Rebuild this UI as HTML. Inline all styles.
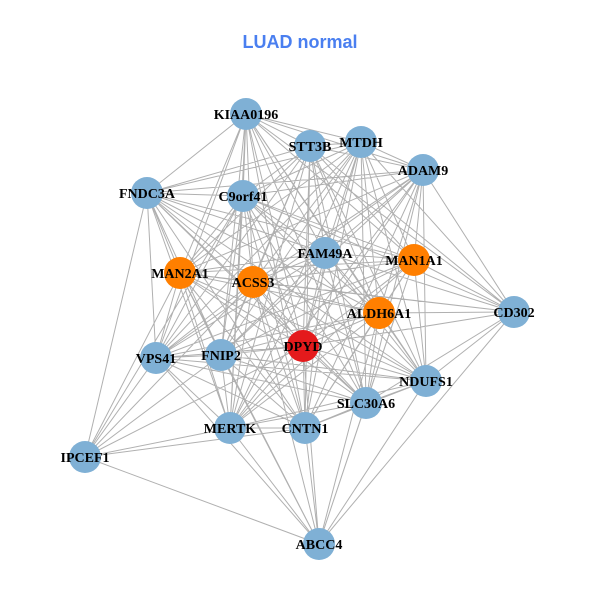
<!DOCTYPE html>
<html><head><meta charset="utf-8"><style>
html,body{margin:0;padding:0;background:#fff;}
svg{display:block;}
text.l{font-family:"Liberation Serif",serif;font-weight:bold;font-size:14px;fill:#000;text-anchor:middle;}
</style></head><body>
<svg width="600" height="600" viewBox="0 0 600 600" xmlns="http://www.w3.org/2000/svg">
<rect width="600" height="600" fill="#fff"/>
<text x="300" y="48" font-family="Liberation Sans, sans-serif" font-weight="bold" font-size="18" fill="#4a7ff0" text-anchor="middle">LUAD normal</text>
<g stroke="#b0b0b0" stroke-width="1" fill="none">
<path d="
M246 114L310 146M246 114L361 142M246 114L423 170M246 114L147 193M246 114L243 196M246 114L325 253M246 114L414 260M246 114L180 273M246 114L253 282M246 114L379 313M246 114L303 346M246 114L156 358M246 114L221 355M246 114L426 381M246 114L366 403M246 114L230 428M246 114L305 428M246 114L514 312
M310 146L361 142M310 146L423 170M310 146L147 193M310 146L243 196M310 146L325 253M310 146L414 260M310 146L180 273M310 146L253 282M310 146L379 313M310 146L303 346M310 146L156 358M310 146L221 355M310 146L426 381M310 146L366 403M310 146L230 428M310 146L305 428M310 146L514 312
M361 142L423 170M361 142L147 193M361 142L243 196M361 142L325 253M361 142L414 260M361 142L180 273M361 142L253 282M361 142L379 313M361 142L303 346M361 142L156 358M361 142L221 355M361 142L426 381M361 142L366 403M361 142L230 428M361 142L305 428M361 142L514 312
M423 170L147 193M423 170L243 196M423 170L325 253M423 170L414 260M423 170L180 273M423 170L253 282M423 170L379 313M423 170L303 346M423 170L156 358M423 170L221 355M423 170L426 381M423 170L366 403M423 170L230 428M423 170L305 428M423 170L514 312
M147 193L243 196M147 193L325 253M147 193L414 260M147 193L180 273M147 193L253 282M147 193L379 313M147 193L303 346M147 193L156 358M147 193L221 355M147 193L426 381M147 193L366 403M147 193L230 428M147 193L305 428M147 193L85 457
M243 196L325 253M243 196L414 260M243 196L180 273M243 196L253 282M243 196L379 313M243 196L303 346M243 196L156 358M243 196L221 355M243 196L426 381M243 196L366 403M243 196L230 428M243 196L305 428M243 196L514 312M243 196L85 457
M325 253L414 260M325 253L180 273M325 253L253 282M325 253L379 313M325 253L303 346M325 253L156 358M325 253L221 355M325 253L426 381M325 253L366 403M325 253L230 428M325 253L305 428M325 253L514 312
M414 260L180 273M414 260L253 282M414 260L379 313M414 260L303 346M414 260L156 358M414 260L221 355M414 260L426 381M414 260L366 403M414 260L230 428M414 260L305 428M414 260L514 312M414 260L319 544
M180 273L253 282M180 273L379 313M180 273L303 346M180 273L156 358M180 273L221 355M180 273L426 381M180 273L366 403M180 273L230 428M180 273L305 428M180 273L514 312M180 273L85 457M180 273L319 544
M253 282L379 313M253 282L303 346M253 282L156 358M253 282L221 355M253 282L426 381M253 282L366 403M253 282L230 428M253 282L305 428M253 282L514 312M253 282L85 457M253 282L319 544
M379 313L303 346M379 313L156 358M379 313L221 355M379 313L426 381M379 313L366 403M379 313L230 428M379 313L305 428M379 313L514 312M379 313L319 544
M303 346L156 358M303 346L221 355M303 346L426 381M303 346L366 403M303 346L230 428M303 346L305 428M303 346L514 312M303 346L85 457M303 346L319 544
M156 358L221 355M156 358L426 381M156 358L366 403M156 358L230 428M156 358L305 428M156 358L85 457M156 358L319 544
M221 355L426 381M221 355L366 403M221 355L230 428M221 355L305 428M221 355L85 457M221 355L319 544
M426 381L366 403M426 381L230 428M426 381L305 428M426 381L514 312M426 381L319 544
M366 403L230 428M366 403L305 428M366 403L514 312M366 403L319 544
M230 428L305 428M230 428L85 457M230 428L319 544
M305 428L85 457M305 428L319 544
M85 457L319 544M514 312L319 544
"/>
</g>
<g>
<circle cx="246" cy="114" r="16" fill="#7fb0d5"/>
<circle cx="310" cy="146" r="16" fill="#7fb0d5"/>
<circle cx="361" cy="142" r="16" fill="#7fb0d5"/>
<circle cx="423" cy="170" r="16" fill="#7fb0d5"/>
<circle cx="147" cy="193" r="16" fill="#7fb0d5"/>
<circle cx="243" cy="196" r="16" fill="#7fb0d5"/>
<circle cx="325" cy="253" r="16" fill="#7fb0d5"/>
<circle cx="414" cy="260" r="16" fill="#ff7f00"/>
<circle cx="180" cy="273" r="16" fill="#ff7f00"/>
<circle cx="253" cy="282" r="16" fill="#ff7f00"/>
<circle cx="379" cy="313" r="16" fill="#ff7f00"/>
<circle cx="514" cy="312" r="16" fill="#7fb0d5"/>
<circle cx="303" cy="346" r="16" fill="#e41a1c"/>
<circle cx="156" cy="358" r="16" fill="#7fb0d5"/>
<circle cx="221" cy="355" r="16" fill="#7fb0d5"/>
<circle cx="426" cy="381" r="16" fill="#7fb0d5"/>
<circle cx="366" cy="403" r="16" fill="#7fb0d5"/>
<circle cx="230" cy="428" r="16" fill="#7fb0d5"/>
<circle cx="305" cy="428" r="16" fill="#7fb0d5"/>
<circle cx="85" cy="457" r="16" fill="#7fb0d5"/>
<circle cx="319" cy="544" r="16" fill="#7fb0d5"/>
</g>
<g>
<text class="l" x="246" y="119">KIAA0196</text>
<text class="l" x="310" y="151">STT3B</text>
<text class="l" x="361" y="147">MTDH</text>
<text class="l" x="423" y="175">ADAM9</text>
<text class="l" x="147" y="198">FNDC3A</text>
<text class="l" x="243" y="201">C9orf41</text>
<text class="l" x="325" y="258">FAM49A</text>
<text class="l" x="414" y="265">MAN1A1</text>
<text class="l" x="180" y="278">MAN2A1</text>
<text class="l" x="253" y="287">ACSS3</text>
<text class="l" x="379" y="318">ALDH6A1</text>
<text class="l" x="514" y="317">CD302</text>
<text class="l" x="303" y="351">DPYD</text>
<text class="l" x="156" y="363">VPS41</text>
<text class="l" x="221" y="360">FNIP2</text>
<text class="l" x="426" y="386">NDUFS1</text>
<text class="l" x="366" y="408">SLC30A6</text>
<text class="l" x="230" y="433">MERTK</text>
<text class="l" x="305" y="433">CNTN1</text>
<text class="l" x="85" y="462">IPCEF1</text>
<text class="l" x="319" y="549">ABCC4</text>
</g>
</svg>
</body></html>
